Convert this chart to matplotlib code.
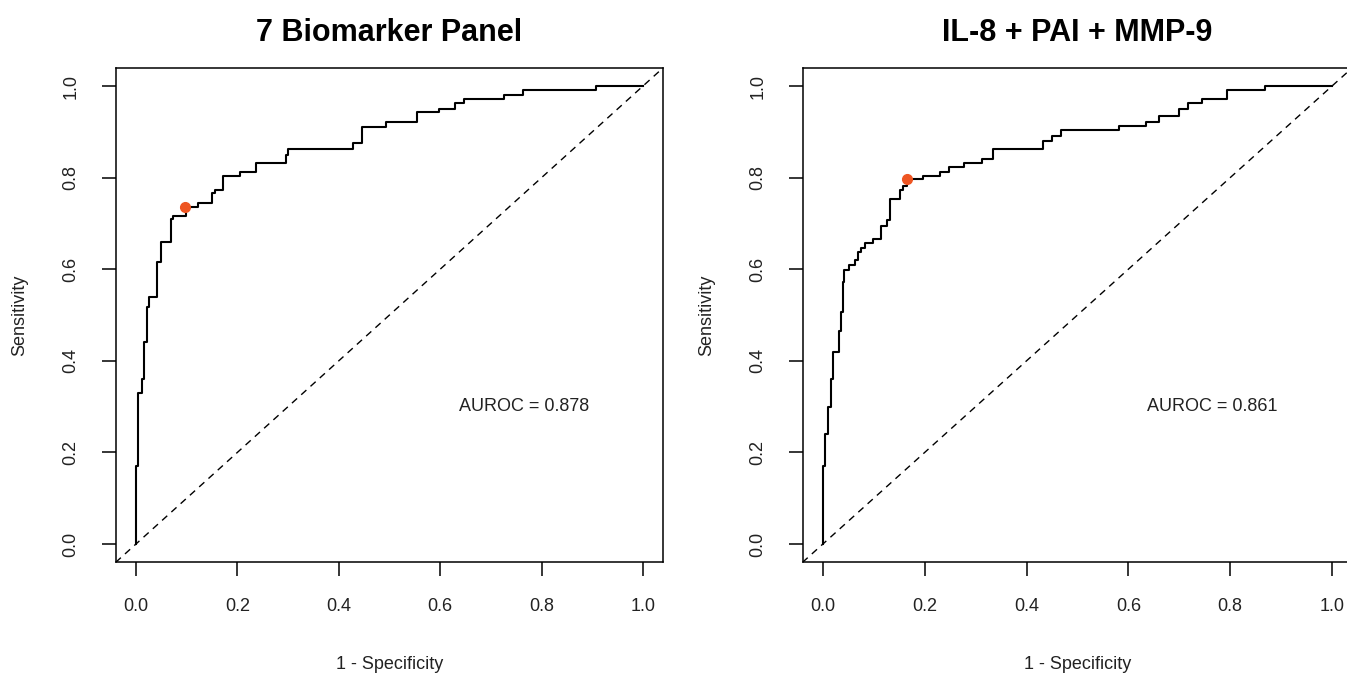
import matplotlib
matplotlib.use("Agg")
import matplotlib.pyplot as plt

plt.rcParams['font.family'] = ['Liberation Sans', 'DejaVu Sans']

titles = ["7 Biomarker Panel", "IL-8 + PAI + MMP-9"]
auroc = [0.878, 0.861]

# ROC step points (1 - specificity, sensitivity)
fpr_a = [0, 0, 0.004, 0.012, 0.016, 0.021, 0.025, 0.041, 0.049, 0.07, 0.073,
         0.099, 0.122, 0.149, 0.155, 0.172, 0.205, 0.237, 0.296, 0.299, 0.428,
         0.445, 0.494, 0.554, 0.598, 0.629, 0.647, 0.726, 0.764, 0.907, 1.0]
tpr_a = [0, 0.17, 0.33, 0.36, 0.44, 0.518, 0.54, 0.616, 0.66, 0.71, 0.716,
         0.736, 0.745, 0.766, 0.774, 0.803, 0.813, 0.833, 0.85, 0.862, 0.875,
         0.911, 0.921, 0.943, 0.95, 0.964, 0.971, 0.98, 0.991, 1.0, 1.0]

fpr_b = [0, 0, 0.005, 0.01, 0.015, 0.02, 0.032, 0.035, 0.039, 0.041, 0.052,
         0.063, 0.069, 0.075, 0.083, 0.099, 0.115, 0.125, 0.132, 0.151, 0.158,
         0.165, 0.196, 0.23, 0.248, 0.278, 0.312, 0.335, 0.433, 0.449, 0.467,
         0.582, 0.635, 0.661, 0.7, 0.717, 0.744, 0.793, 0.868, 1.0]
tpr_b = [0, 0.17, 0.24, 0.30, 0.36, 0.42, 0.464, 0.507, 0.573, 0.598, 0.609,
         0.62, 0.638, 0.646, 0.658, 0.667, 0.695, 0.707, 0.753, 0.773, 0.782,
         0.797, 0.803, 0.813, 0.824, 0.833, 0.841, 0.862, 0.88, 0.891, 0.904,
         0.913, 0.922, 0.934, 0.949, 0.962, 0.971, 0.991, 1.0, 1.0]

# best cut-off points
cut_x = [0.097, 0.165]
cut_y = [0.736, 0.797]

ticks = [0.0, 0.2, 0.4, 0.6, 0.8, 1.0]

fig = plt.figure(figsize=(13.47, 6.77), dpi=100)
ax1 = fig.add_axes([0.0859, 0.1694, 0.4065, 0.7306])
ax2 = fig.add_axes([0.5958, 0.1694, 0.4082, 0.7306])

data = [(fpr_a, tpr_a), (fpr_b, tpr_b)]
for i, ax in enumerate([ax1, ax2]):
    x, y = data[i]
    ax.step(x, y, where='post', color='black', lw=1.5, zorder=3)
    ax.axline((0, 0), (1, 1), color='black', lw=1.0, dashes=(5, 4))
    ax.plot(cut_x[i], cut_y[i], 'o', color='#EE5522', ms=7, zorder=4)
    ax.text(0.765, 0.3, "AUROC = %.3f" % auroc[i], fontsize=13,
            ha='center', va='center', color='#222222')
    ax.set_xlim(-0.04, 1.04)
    ax.set_ylim(-0.04, 1.04)
    ax.set_xticks(ticks)
    ax.set_yticks(ticks)
    ax.set_xticklabels(["%.1f" % t for t in ticks])
    ax.set_yticklabels(["%.1f" % t for t in ticks])
    ax.tick_params(axis='both', length=10, width=1.1, labelsize=13,
                   pad=16, labelcolor='#222222')
    ax.tick_params(axis='y', labelrotation=90)
    for lab in ax.get_yticklabels():
        lab.set_va('center')
    for s in ax.spines.values():
        s.set_linewidth(1.1)
    ax.set_xlabel("1 - Specificity", fontsize=13, labelpad=29, color='#222222')
    ax.set_ylabel("Sensitivity", fontsize=13, labelpad=25, color='#222222')
    ax.set_title(titles[i], fontsize=22, fontweight='bold', pad=19)

fig.savefig("out.png", dpi=100)
